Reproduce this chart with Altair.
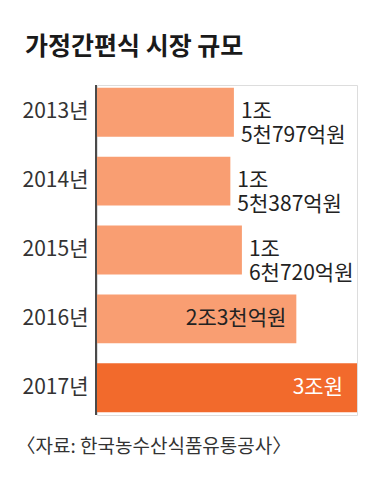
import altair as alt
import pandas as pd

years = ["2013년", "2014년", "2015년", "2016년", "2017년"]
values = [1.5797, 1.5387, 1.6720, 2.3, 3.0]  # 조원
labels = ["1조\n5천797억원", "1조\n5천387억원", "1조\n6천720억원", "2조3천억원", "3조원"]

df = pd.DataFrame({"year": years, "value": values, "label": labels})
base_df = pd.DataFrame({"value": [0]})

FONT = "Noto Sans CJK KR"
NFONT = "'Liberation Sans Narrow', 'Noto Sans CJK KR'"
FS = 21

y_enc = alt.Y("year:N", sort=years,
              scale=alt.Scale(paddingInner=0.29, paddingOuter=0.04),
              axis=alt.Axis(title=None, labelFont=NFONT, labelFontSize=FS,
                            labelColor="#333333", labelPadding=9, ticks=False,
                            domain=False))
x_enc = alt.X("value:Q", scale=alt.Scale(domain=[0, 3], nice=False),
              axis=alt.Axis(title="〈자료: 한국농수산식품유통공사〉", labels=False, ticks=False,
                            domain=False, grid=False, titleFont=NFONT, titleFontSize=19,
                            titleFontWeight="normal", titleColor="#333333",
                            titleAnchor="start", titleAlign="left", titleBaseline="top",
                            titleX=-81, titleY=22))

bars = alt.Chart(df).mark_bar().encode(
    y=y_enc, x=x_enc,
    color=alt.condition(alt.datum.year == "2017년", alt.value("#F26A2C"), alt.value("#F99E72")),
)

baseline = alt.Chart(base_df).mark_rule(color="#4a4a4a", strokeWidth=2, xOffset=-1).encode(
    x="value:Q")

outside = alt.Chart(df).transform_filter(
    "indexof(['2013년','2014년','2015년'], datum.year) >= 0"
).mark_text(align="left", baseline="middle", dx=7, font=NFONT, fontSize=FS,
            lineBreak="\n", lineHeight=24, color="#222222").encode(
    y=alt.Y("year:N", sort=years), x="value:Q", text="label:N")

inside_dark = alt.Chart(df).transform_filter("datum.year == '2016년'").mark_text(
    align="right", baseline="middle", dx=-10, font=NFONT, fontSize=FS, color="#222222"
).encode(y=alt.Y("year:N", sort=years), x="value:Q", text="label:N")

inside_white = alt.Chart(df).transform_filter("datum.year == '2017년'").mark_text(
    align="right", baseline="middle", dx=-14, font=NFONT, fontSize=FS, color="#FFFFFF"
).encode(y=alt.Y("year:N", sort=years), x="value:Q", text="label:N")

chart = alt.layer(bars, baseline, outside, inside_dark, inside_white).properties(
    width=260, height=330,
    title=alt.TitleParams("가정간편식 시장 규모", anchor="start", frame="group", dx=-72, offset=24,
                          font=FONT, fontSize=25, fontWeight="bold", color="#1a1a1a"),
    autosize=alt.AutoSizeParams(type="none"),
    padding={"left": 89, "top": 77, "right": 4, "bottom": 54},
).configure_view(stroke=None).configure(background="#FFFFFF")

chart.save("out.html", embed_options={"renderer": "svg", "actions": False})
